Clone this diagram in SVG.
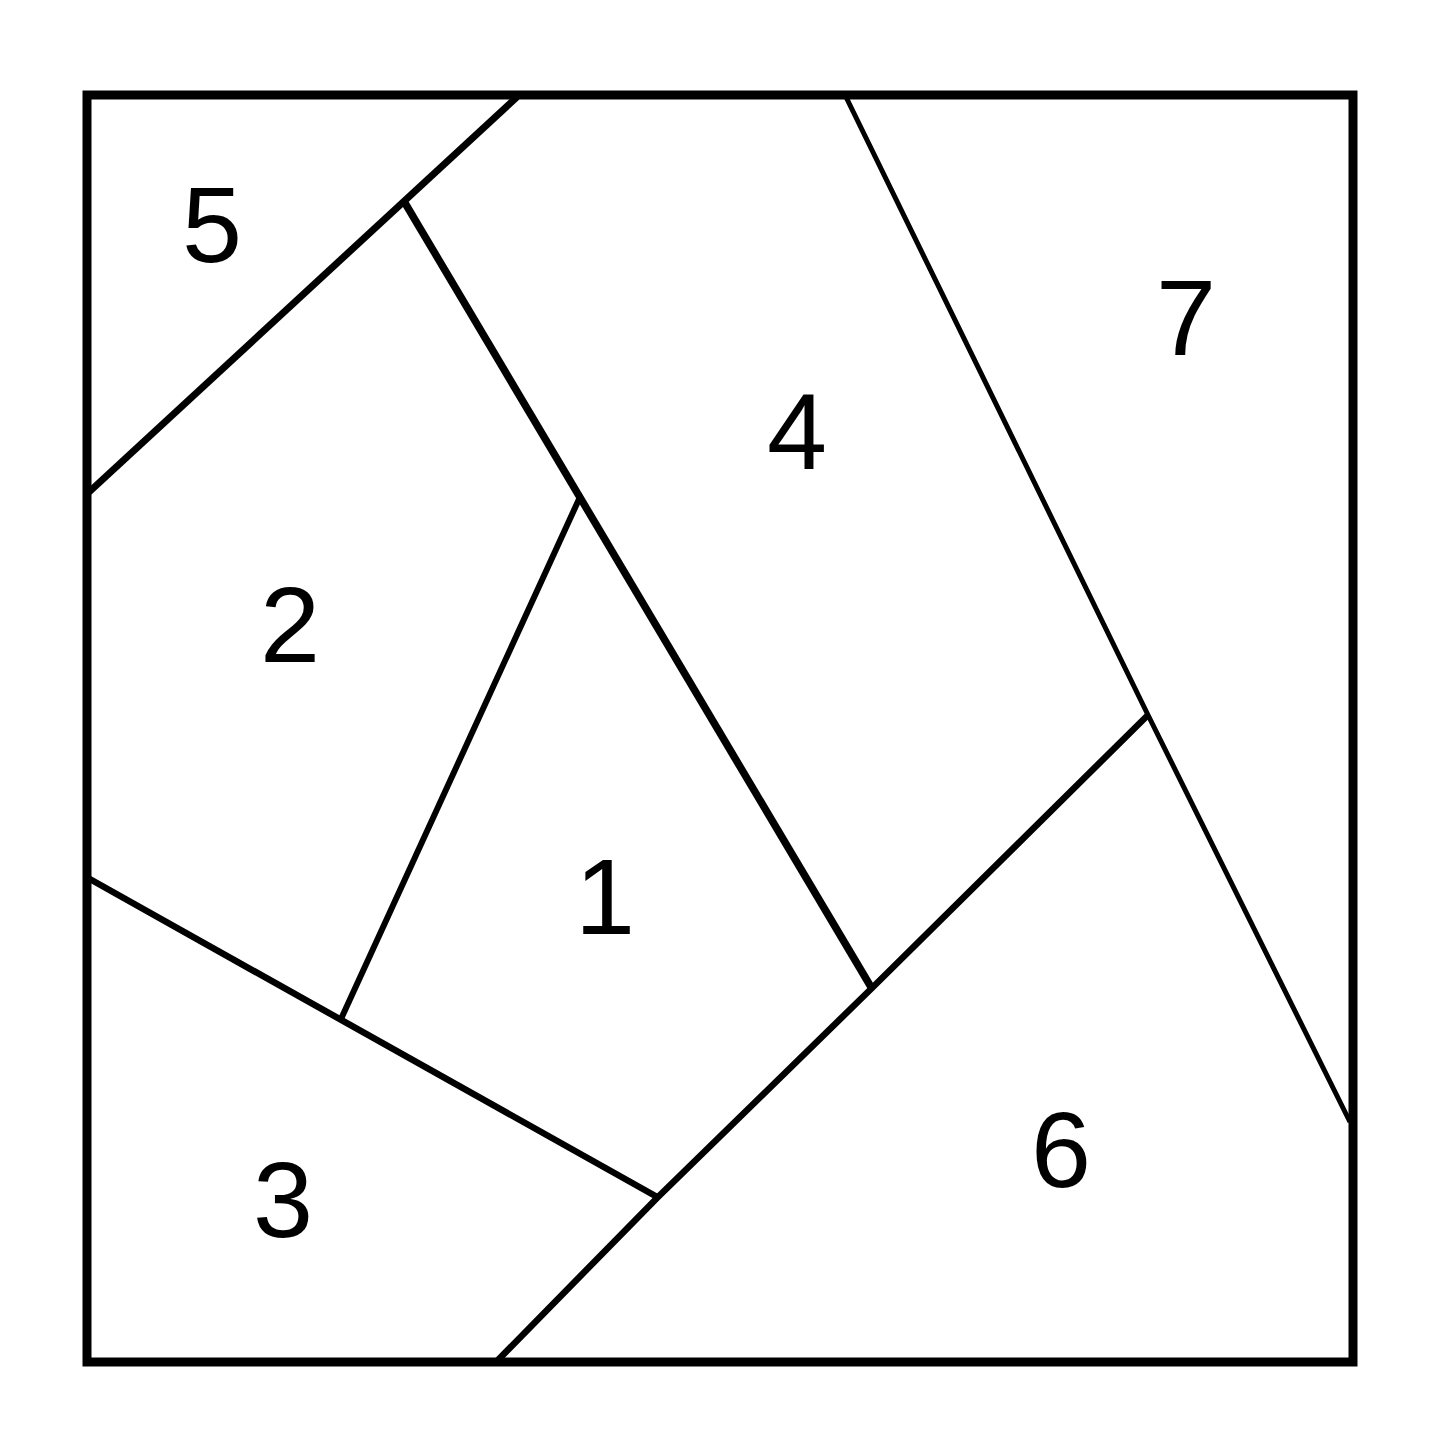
<svg xmlns="http://www.w3.org/2000/svg" width="1445" height="1445" viewBox="0 0 1445 1445">
<style>
.frame{fill:none;stroke:#000;stroke-width:9;stroke-linejoin:miter}
.seam{fill:none;stroke:#000;stroke-linecap:butt;stroke-linejoin:round}
.lbl{font-family:"Liberation Sans","DejaVu Sans",sans-serif;font-size:108px;fill:#000;text-anchor:middle}
</style>
<rect width="1445" height="1445" fill="#fff"/>
<g id="seams">
<rect class="frame" x="87" y="95" width="1266" height="1267"/>
<line class="seam" stroke-width="7" x1="517" y1="97" x2="88" y2="493"/>
<line class="seam" stroke-width="7.5" x1="405" y1="203" x2="871" y2="987"/>
<line class="seam" stroke-width="6" x1="580" y1="497" x2="341" y2="1019"/>
<line class="seam" stroke-width="6.5" x1="88" y1="878" x2="659" y2="1198"/>
<polyline class="seam" stroke-width="6.5" points="497,1361 658,1197 872,988 1148,715"/>
<polyline class="seam" stroke-width="5" points="846,97 1148,715 1350,1122"/>
</g>
<g id="patch-5"><text class="lbl" x="212" y="262">5</text></g>
<g id="patch-7"><text class="lbl" x="1186" y="355">7</text></g>
<g id="patch-4"><text class="lbl" x="797" y="469">4</text></g>
<g id="patch-2"><text class="lbl" x="290" y="662">2</text></g>
<g id="patch-1"><text class="lbl" x="605" y="934">1</text></g>
<g id="patch-6"><text class="lbl" x="1061" y="1187">6</text></g>
<g id="patch-3"><text class="lbl" x="283" y="1237">3</text></g>
</svg>
